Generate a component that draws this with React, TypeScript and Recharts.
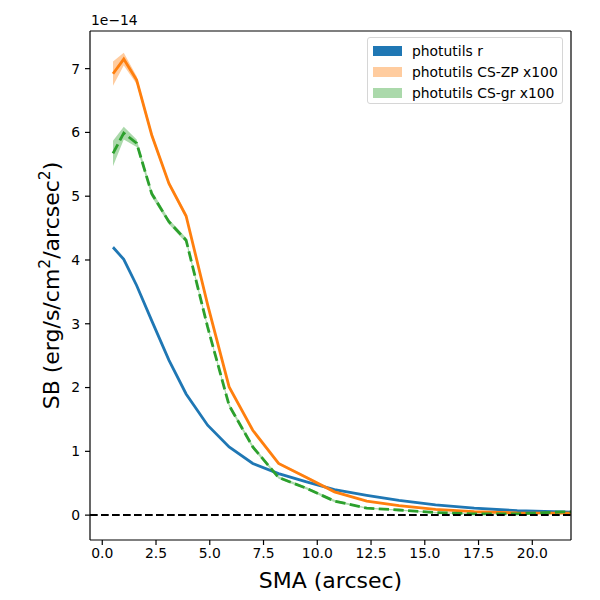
import React from 'react';
import {
  ComposedChart,
  Line,
  Area,
  XAxis,
  YAxis,
  ReferenceLine,
  Legend,
  Label,
} from 'recharts';

// SMA in arcsec
const sma = [0.5, 1.0, 1.6, 2.3, 3.1, 3.9, 4.9, 5.9, 7.0, 8.2, 9.5, 10.8, 12.3, 13.8, 15.5, 17.3, 19.3, 21.4, 23.7];
// surface brightness, units of 1e-14 erg/s/cm^2/arcsec^2
const rSB = [4.2, 4.01, 3.6, 3.05, 2.43, 1.9, 1.41, 1.07, 0.81, 0.65, 0.52, 0.4, 0.31, 0.23, 0.16, 0.11, 0.07, 0.05, 0.04];
const rErr = [0.02, 0.02, 0.02, 0.02, 0.01, 0.01, 0.01, 0.01, 0.01, 0.01, 0.01, 0.01, 0.01, 0.01, 0.01, 0.01, 0.01, 0.01, 0.01];
const zpSB = [6.92, 7.15, 6.82, 5.96, 5.2, 4.69, 3.3, 2.01, 1.33, 0.81, 0.59, 0.365, 0.22, 0.15, 0.09, 0.055, 0.035, 0.03, 0.03];
const zpErr = [0.19, 0.1, 0.06, 0.05, 0.04, 0.04, 0.03, 0.03, 0.02, 0.02, 0.02, 0.02, 0.01, 0.01, 0.01, 0.01, 0.01, 0.01, 0.01];
const grSB = [5.67, 5.99, 5.83, 5.04, 4.6, 4.31, 2.95, 1.72, 1.07, 0.59, 0.42, 0.22, 0.11, 0.08, 0.04, 0.02, 0.02, 0.05, 0.05];
const grErr = [0.2, 0.1, 0.06, 0.05, 0.04, 0.04, 0.03, 0.03, 0.03, 0.02, 0.02, 0.02, 0.01, 0.01, 0.01, 0.01, 0.01, 0.01, 0.01];

const xTicks = [0, 2.5, 5, 7.5, 10, 12.5, 15, 17.5, 20];
const yTicks = [0, 1, 2, 3, 4, 5, 6, 7];
const xDomain = [-0.57, 21.8];
const yDomain = [-0.39, 7.59];

const legendItems = [
  { label: 'photutils r', color: '#1f77b4', opacity: 1 },
  { label: 'photutils CS-ZP x100', color: '#ff7f0e', opacity: 0.4 },
  { label: 'photutils CS-gr x100', color: '#2ca02c', opacity: 0.4 },
];

const data = sma.map((x, i) => ({
  sma: x,
  r: rSB[i],
  rBand: [rSB[i] - rErr[i], rSB[i] + rErr[i]],
  zp: zpSB[i],
  zpBand: [zpSB[i] - zpErr[i], zpSB[i] + zpErr[i]],
  gr: grSB[i],
  grBand: [grSB[i] - grErr[i], grSB[i] + grErr[i]],
}));

const FONT = 'DejaVu Sans, sans-serif';
const TICK_FS = 13.9;
const LABEL_FS = 22;

const LegendBox = () => (
  <div
    style={{
      boxSizing: 'border-box',
      width: 196,
      height: 67,
      border: '1px solid #d6d6d6',
      borderRadius: 3,
      background: 'rgba(255,255,255,0.8)',
      fontFamily: FONT,
      fontSize: TICK_FS,
      color: '#000',
      paddingTop: 2,
      paddingLeft: 5,
    }}
  >
    {legendItems.map((it) => (
      <div key={it.label} style={{ display: 'flex', alignItems: 'center', height: 21 }}>
        <div
          style={{
            width: 29,
            height: 10,
            background: it.color,
            opacity: it.opacity,
            marginRight: 10,
          }}
        />
        <span style={{ whiteSpace: 'nowrap' }}>{it.label}</span>
      </div>
    ))}
  </div>
);

const XLabel = (props: any) => {
  const vb = props.viewBox || {};
  return (
    <text
      x={vb.x + vb.width / 2}
      y={588}
      textAnchor="middle"
      fontFamily={FONT}
      fontSize={LABEL_FS}
      fill="#000"
    >
      SMA (arcsec)
    </text>
  );
};

const YLabel = (props: any) => {
  const vb = props.viewBox || {};
  const cx = 59;
  const cy = vb.y + vb.height / 2;
  return (
    <text
      x={cx}
      y={cy}
      transform={`rotate(-90, ${cx}, ${cy})`}
      textAnchor="middle"
      fontFamily={FONT}
      fontSize={LABEL_FS}
      fill="#000"
    >
      <tspan>SB (erg/s/cm</tspan>
      <tspan dy={-9} fontSize={15.5}>2</tspan>
      <tspan dy={9}>/arcsec</tspan>
      <tspan dy={-9} fontSize={15.5}>2</tspan>
      <tspan dy={9}>)</tspan>
    </text>
  );
};

const OffsetLabel = (props: any) => {
  const vb = props.viewBox || {};
  return (
    <text x={vb.x + vb.width + 1} y={vb.y - 6} fontFamily={FONT} fontSize={TICK_FS} fill="#000">
      1e−14
    </text>
  );
};

export default function App() {
  return (
    <div style={{ position: 'absolute', left: 0, top: 0, width: 600, height: 600, background: '#fff' }}>
      <ComposedChart
        width={600}
        height={600}
        data={data}
        margin={{ top: 31, right: 29, bottom: 30, left: 30 }}
      >
        <XAxis
          xAxisId="b"
          dataKey="sma"
          type="number"
          domain={xDomain}
          allowDataOverflow
          ticks={xTicks}
          tickFormatter={(v: number) => v.toFixed(1)}
          height={30}
          tickSize={5}
          tickMargin={3}
          axisLine={{ stroke: '#000', strokeWidth: 1.2 }}
          tickLine={{ stroke: '#000', strokeWidth: 1.2 }}
          tick={{ fill: '#000', fontSize: TICK_FS, fontFamily: FONT }}
        >
          <Label content={<XLabel />} />
        </XAxis>
        <YAxis
          yAxisId="l"
          type="number"
          domain={yDomain}
          allowDataOverflow
          ticks={yTicks}
          width={60}
          tickSize={5}
          tickMargin={5}
          axisLine={{ stroke: '#000', strokeWidth: 1.2 }}
          tickLine={{ stroke: '#000', strokeWidth: 1.2 }}
          tick={{ fill: '#000', fontSize: TICK_FS, fontFamily: FONT }}
        >
          <Label content={<YLabel />} />
          <Label content={<OffsetLabel />} />
        </YAxis>
        <Area
          xAxisId="b"
          yAxisId="l"
          dataKey="rBand"
          type="linear"
          stroke="none"
          fill="#1f77b4"
          fillOpacity={0.4}
          isAnimationActive={false}
          legendType="none"
        />
        <Area
          xAxisId="b"
          yAxisId="l"
          dataKey="zpBand"
          type="linear"
          stroke="none"
          fill="#ff7f0e"
          fillOpacity={0.4}
          isAnimationActive={false}
          legendType="none"
        />
        <Area
          xAxisId="b"
          yAxisId="l"
          dataKey="grBand"
          type="linear"
          stroke="none"
          fill="#2ca02c"
          fillOpacity={0.4}
          isAnimationActive={false}
          legendType="none"
        />
        <Line
          xAxisId="b"
          yAxisId="l"
          dataKey="r"
          type="linear"
          stroke="#1f77b4"
          strokeWidth={2.8}
          dot={false}
          activeDot={false}
          isAnimationActive={false}
        />
        <Line
          xAxisId="b"
          yAxisId="l"
          dataKey="zp"
          type="linear"
          stroke="#ff7f0e"
          strokeWidth={2.8}
          dot={false}
          activeDot={false}
          isAnimationActive={false}
        />
        <Line
          xAxisId="b"
          yAxisId="l"
          dataKey="gr"
          type="linear"
          stroke="#2ca02c"
          strokeWidth={2.8}
          strokeDasharray="10.3 4.4"
          dot={false}
          activeDot={false}
          isAnimationActive={false}
        />
        <ReferenceLine
          xAxisId="b"
          yAxisId="l"
          y={0}
          stroke="#000"
          strokeWidth={2}
          strokeDasharray="7.7 3.3"
        />
        <ReferenceLine xAxisId="b" yAxisId="l" y={yDomain[1]} stroke="#000" strokeWidth={1.2} />
        <ReferenceLine xAxisId="b" yAxisId="l" x={xDomain[1]} stroke="#000" strokeWidth={1.2} />
        <Legend
          content={<LegendBox />}
          layout="horizontal"
          verticalAlign="middle"
          align="center"
          wrapperStyle={{ position: 'absolute', left: 367, top: 37, width: 196, height: 67 }}
        />
      </ComposedChart>
    </div>
  );
}
